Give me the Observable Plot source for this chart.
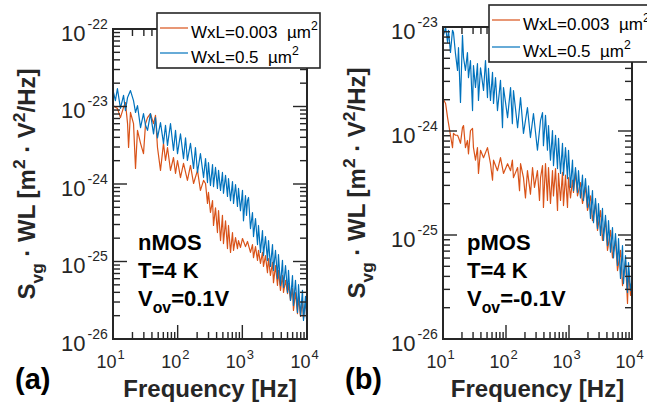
<!DOCTYPE html>
<html><head><meta charset="utf-8">
<script src="https://cdn.jsdelivr.net/npm/d3@7"></script>
<script src="https://cdn.jsdelivr.net/npm/@observablehq/plot@0.6"></script>
<style>
html,body{margin:0;padding:0;background:#fff}
#wrap{position:relative;width:647px;height:418px;background:#fff}
#wrap svg{position:absolute;top:0}
</style></head><body><div id="wrap"></div>
<script>
// ---------- data ----------
const seriesNames = ["WxL=0.003", "WxL=0.5"];
const xTicks = [10, 100, 1000, 10000];
const xTickBase = ["10", "10", "10", "10"];
const xTickExp = ["1", "2", "3", "4"];
const yTicksA = [1e-26, 1e-25, 1e-24, 1e-23, 1e-22];
const yTickBaseA = ["10", "10", "10", "10", "10"];
const yTickExpA = ["-26", "-25", "-24", "-23", "-22"];
const yTicksB = [1e-26, 1e-25, 1e-24, 1e-23];
const yTickBaseB = ["10", "10", "10", "10"];
const yTickExpB = ["-26", "-25", "-24", "-23"];

// (a) nMOS, WxL = 0.003 um^2
const fA_small = [10,10.7,11.5,12.8,14.3,15.3,16.5,17.1,18.3,20.4,21.9,23.5,26.2,29.1,31.3,33.6,37.3,41.6,44.6,47.9,53.3,59.3,63.7,68.4,76.1,84.7,91.0,97.7,108.6,121,139,155,173,199,221,247,
265,284,294,316,340,352,378,405,421,452,484,502,540,579,600,645,692,718,771,826,857,920,988,1099,1180,1313,1410,1462,1570,1686,1746,1875,2014,2085,2239,2404,2495,2673,2877,2979,3199,3436,3556,3819,4102,4256,4571,4909,5082,5458,5861,6067,6516,6998,7261,7798,8356,8670,9311,10000];
const sA_small = [1.04e-23,9.9e-24,9.6e-24,7.3e-24,9.9e-24,1.14e-23,6.1e-24,3.0e-24,8.5e-24,6.1e-24,1.61e-24,5.0e-24,3.4e-24,2.5e-24,6.1e-24,7.3e-24,8.2e-24,6.1e-24,7.8e-24,3.0e-24,1.52e-24,3.4e-24,2.04e-24,3.0e-24,1.52e-24,2.23e-24,1.39e-24,2.04e-24,1.23e-24,1.87e-24,1.13e-24,1.76e-24,1.03e-24,1.52e-24,8.4e-25,1.13e-24,
1.03e-24,5.7e-25,7.9e-25,4.35e-25,6.2e-25,2.96e-25,5.0e-25,2.4e-25,4.6e-25,1.89e-25,4.0e-25,1.73e-25,3.4e-25,1.49e-25,2.96e-25,1.33e-25,2.4e-25,1.41e-25,2.07e-25,1.49e-25,1.89e-25,1.54e-25,2.01e-25,1.58e-25,1.84e-25,1.33e-25,1.68e-25,1.14e-25,1.58e-25,1.05e-25,1.41e-25,9.6e-26,1.33e-25,8.75e-26,1.21e-25,7.3e-26,1.11e-25,6.7e-26,9.9e-26,5.4e-26,9.0e-26,5.0e-26,7.8e-26,4.3e-26,6.7e-26,4.04e-26,5.8e-26,3.9e-26,5.3e-26,3.2e-26,4.55e-26,2.37e-26,4.04e-26,2.16e-26,3.5e-26,1.98e-26,3.2e-26,1.87e-26,2.9e-26,2.04e-26];

// (a) nMOS, WxL = 0.5 um^2
const fA_large = [10,10.7,11.5,12.8,14.3,15.3,16.5,18.3,20.4,21.9,23.5,26.2,29.1,31.3,33.6,37.3,41.6,44.6,47.9,53.3,59.3,63.7,68.4,76.1,84.7,91.0,97.7,108.6,121,130,139,155,173,185,199,221,247,
265,284,294,316,340,352,378,405,421,452,484,502,540,579,600,645,692,718,771,826,857,920,988,1023,1099,1140,1180,1225,1313,1410,1462,1570,1686,1746,1875,2014,2085,2239,2404,2495,2673,2877,2979,3199,3436,3556,3819,4102,4256,4571,4909,5082,5458,5861,6067,6516,6998,7261,7798,8356,8670,9311,9638,10000];
const sA_large = [1.54e-23,1.21e-23,1.73e-23,9.6e-24,1.41e-23,9.0e-24,1.33e-23,1.63e-23,1.21e-23,8.5e-24,1.04e-23,5.4e-24,8.2e-24,5.8e-24,5.0e-24,8.2e-24,4.5e-24,7.3e-24,4.0e-24,6.3e-24,3.4e-24,5.8e-24,3.2e-24,6.1e-24,2.75e-24,5.0e-24,2.5e-24,4.5e-24,2.16e-24,4.0e-24,2.04e-24,3.4e-24,1.61e-24,3.0e-24,1.43e-24,2.5e-24,1.23e-24,
2.16e-24,1.06e-24,1.92e-24,9.7e-25,1.81e-24,9.4e-25,1.66e-24,8.9e-25,1.52e-24,8.4e-25,1.43e-24,7.7e-25,1.31e-24,7.0e-25,1.19e-24,6.2e-25,1.09e-24,5.7e-25,1.0e-24,5.2e-25,8.9e-25,4.6e-25,8.4e-25,3.4e-25,7.2e-25,4.0e-25,6.2e-25,6.8e-25,2.7e-25,4.35e-25,2.13e-25,3.64e-25,1.68e-25,2.96e-25,1.33e-25,2.55e-25,1.21e-25,2.13e-25,1.05e-25,1.89e-25,8.75e-26,1.68e-25,7.8e-26,1.41e-25,6.1e-26,1.25e-25,5.0e-26,1.05e-25,4.7e-26,9.0e-26,4.04e-26,7.8e-26,3.2e-26,6.7e-26,2.75e-26,5.8e-26,2.23e-26,5.1e-26,2.04e-26,4.3e-26,1.76e-26,3.6e-26,1.87e-26,3.2e-26];

// (b) pMOS, WxL = 0.003 um^2
const fB_small = [10,10.8,11.6,12.9,13.9,14.4,15.5,16.7,17.3,18.6,20.0,20.8,22.3,24.0,24.9,26.8,28.9,29.9,32.2,34.6,35.9,38.7,43.2,49.9,55.7,60.0,62.2,71.9,80.3,89.6,104,116,124,129,150,161,167,186,200,215,240,259,278,310,334,347,
373,386,416,447,464,499,537,557,600,645,669,720,774,803,864,929,964,1037,1116,1157,1245,1339,1495,1608,1794,1931,2154,2317,2587,2783,3103,3339,3727,4009,4474,4813,5372,5779,6450,6939,7743,8330,8642,9298,10000];
const sB_small = [2.03e-24,1.86e-24,1.36e-24,9.2e-25,7.0e-25,9.6e-25,9.2e-25,9.2e-25,8.75e-25,7.7e-25,1.09e-24,1.14e-24,7.0e-25,8.2e-25,6.1e-25,1.02e-24,1.07e-24,7.0e-25,5.3e-25,7.0e-25,3.95e-25,6.6e-25,5.6e-25,7.0e-25,4.9e-25,3.4e-25,5.3e-25,4.2e-25,5.6e-25,3.95e-25,4.9e-25,4.2e-25,5.3e-25,3.6e-25,4.5e-25,2.7e-25,4.9e-25,3.6e-25,2.3e-25,4.2e-25,2.5e-25,4.5e-25,2.9e-25,4.2e-25,2.17e-25,3.6e-25,
4.7e-25,1.86e-25,4.9e-25,2.17e-25,4.5e-25,2.03e-25,4.2e-25,2.4e-25,4.4e-25,1.74e-25,3.95e-25,2.17e-25,4.04e-25,1.94e-25,3.8e-25,1.86e-25,3.6e-25,2.3e-25,3.4e-25,2.6e-25,4.04e-25,2.4e-25,3.23e-25,2.03e-25,2.9e-25,1.74e-25,2.4e-25,1.39e-25,2.03e-25,1.12e-25,1.74e-25,8.95e-26,1.39e-25,7.2e-26,1.12e-25,6.1e-26,8.95e-26,4.6e-26,7.2e-26,3.3e-26,5.75e-26,2.22e-26,4.6e-26,2.65e-26,3.7e-26];

// (b) pMOS, WxL = 0.5 um^2
const fB_large = [10,10.8,11.6,12.0,12.9,13.9,14.4,15.5,16.7,17.3,18.6,20.0,20.8,22.3,24.0,24.9,26.8,28.9,29.9,32.2,34.6,35.9,38.7,43.2,46.4,49.9,51.8,55.7,60.0,62.2,66.9,71.9,80.3,86.4,89.6,104,116,124,129,150,167,186,215,240,268,310,347,
373,386,416,447,464,499,537,557,600,645,669,720,774,803,864,929,964,1037,1116,1157,1245,1339,1389,1495,1608,1668,1794,1931,2004,2154,2317,2404,2587,2783,2884,3103,3339,3464,3727,4009,4159,4474,4813,4993,5372,5779,5995,6450,6939,7197,7743,8330,8642,9298,10000];
const sB_large = [8.4e-24,1.0e-23,7.2e-24,9.4e-24,5.75e-24,9.4e-24,8.95e-24,5.6e-24,3.86e-24,6.4e-24,1.9e-24,8.4e-24,5.15e-24,3.86e-24,5.75e-24,3.3e-24,4.8e-24,1.59e-24,4.3e-24,2.65e-24,4.5e-24,1.99e-24,4.1e-24,2.48e-24,4.8e-24,2.12e-24,4.04e-24,1.99e-24,3.7e-24,1.86e-24,3.3e-24,1.59e-24,3.1e-24,1.09e-24,2.65e-24,1.36e-24,2.65e-24,1.19e-24,2.48e-24,1.09e-24,2.12e-24,9.6e-25,1.7e-24,8.75e-25,1.49e-24,6.6e-25,1.28e-24,
1.52e-24,7.3e-25,1.43e-24,6.6e-25,1.14e-24,5.3e-25,1.02e-24,4.7e-25,9.2e-25,4.4e-25,8.6e-25,3.95e-25,7.7e-25,3.8e-25,7.0e-25,3.53e-25,6.6e-25,2.9e-25,5.3e-25,2.7e-25,4.5e-25,2.6e-25,4.2e-25,2.3e-25,3.8e-25,2.17e-25,3.53e-25,1.86e-25,3.0e-25,1.46e-25,2.7e-25,1.33e-25,2.27e-25,1.17e-25,2.03e-25,1.0e-25,1.82e-25,8.95e-26,1.56e-25,8.0e-26,1.39e-25,6.9e-26,1.19e-25,6.1e-26,1.045e-25,5.15e-26,9.35e-26,3.86e-26,8.0e-26,3.45e-26,6.4e-26,2.83e-26,5.5e-26,2.96e-26,4.1e-26];

// ---------- drawing ----------
const FONT = "'Liberation Sans', Arial, Helvetica, sans-serif";
const INK = "#262626";
const ORANGE = "#D95319", BLUE = "#0072BD";
const H = 418;

function rich(sel, parts, base) {
  let off = 0;
  for (const p of parts) {
    const target = p.sub ? base * 0.32 : p.sup ? -base * 0.42 : 0;
    const ts = sel.append("tspan").text(p.t).attr("dy", target - off);
    if (p.sub || p.sup) ts.attr("font-size", base * 0.72);
    off = target;
  }
}

function bar(sel, x, y, w, h) {
  sel.append("rect").attr("x", x).attr("y", y).attr("width", w).attr("height", h)
    .attr("fill", INK).attr("stroke", "none").style("fill", INK);
}

function drawPanel(p) {
  const small = p.fSmall.map((f, i) => ({f, s: p.sSmall[i]}));
  const large = p.fLarge.map((f, i) => ({f, s: p.sLarge[i]}));
  const chart = Plot.plot({
    width: p.width, height: H,
    marginLeft: p.ml, marginRight: p.mr, marginTop: p.mt, marginBottom: p.mb,
    style: {background: "transparent"},
    x: {type: "log", domain: [10, 1e4], axis: null},
    y: {type: "log", domain: p.yDomain, axis: null},
    marks: [
      Plot.line(small, {x: "f", y: "s", stroke: ORANGE, strokeWidth: 1.2, clip: true}),
      Plot.line(large, {x: "f", y: "s", stroke: BLUE, strokeWidth: 1.2, clip: true}),
      Plot.text(xTicks, {x: d => d, frameAnchor: "bottom", text: xTickBase, textAnchor: "end", lineAnchor: "bottom", dx: 3, dy: 28, fontSize: 18, fontFamily: FONT, fill: INK}),
      Plot.text(xTicks, {x: d => d, frameAnchor: "bottom", text: xTickExp, textAnchor: "start", lineAnchor: "bottom", dx: 4, dy: 19, fontSize: 13, fontFamily: FONT, fill: INK}),
      Plot.text(p.yTicks, {y: d => d, frameAnchor: "left", text: p.yBase, textAnchor: "end", lineAnchor: "bottom", dx: -28, dy: 11, fontSize: 22, fontFamily: FONT, fill: INK}),
      Plot.text(p.yTicks, {y: d => d, frameAnchor: "left", text: p.yExp, textAnchor: "start", lineAnchor: "bottom", dx: -26, dy: -1, fontSize: 14, fontFamily: FONT, fill: INK})
    ]
  });
  chart.style.left = p.left + "px";
  document.getElementById("wrap").appendChild(chart);
  const svg = d3.select(chart);
  const sx = chart.scale("x"), sy = chart.scale("y");
  const X = v => sx.apply(v), Y = v => sy.apply(v);
  const x0 = p.ml, x1 = p.width - p.mr, y0 = p.mt, y1 = H - p.mb;
  const isMajor = v => Math.abs(Math.log10(v) - Math.round(Math.log10(v))) < 1e-6;

  // inward ticks on all four sides and the box, as filled bars placed through Plot's scales
  const g = svg.append("g");
  for (const v of d3.scaleLog().domain([10, 1e4]).ticks(30)) {
    const len = isMajor(v) ? 14 : 7, xx = X(v);
    bar(g, xx - 0.7, y1 - len, 1.4, len);
    bar(g, xx - 0.7, y0, 1.4, len);
  }
  for (const v of d3.scaleLog().domain(p.yDomain).ticks(30)) {
    const len = isMajor(v) ? 14 : 7, yy = Y(v);
    bar(g, x0, yy - 0.7, len, 1.4);
    bar(g, x1 - len, yy - 0.7, len, 1.4);
  }
  bar(g, x0 - 1, y0 - 1, x1 - x0 + 2, 2);
  bar(g, x0 - 1, y1 - 1, x1 - x0 + 2, 2);
  bar(g, x0 - 1, y0 - 1, 2, y1 - y0 + 2);
  bar(g, x1 - 1, y0 - 1, 2, y1 - y0 + 2);

  const innerCx = (x0 + x1) / 2;
  const innerCy = (y0 + y1) / 2;

  // y label
  const yl = svg.append("text").attr("transform", `translate(35,${innerCy}) rotate(-90)`)
    .attr("text-anchor", "middle").attr("font-family", FONT).attr("font-weight", "bold")
    .attr("font-size", 24).attr("fill", INK);
  rich(yl, [{t: "S"}, {t: "vg", sub: true}, {t: " · WL [m"}, {t: "2", sup: true}, {t: " · V"}, {t: "2", sup: true}, {t: "/Hz]"}], 24);

  // x label
  svg.append("text").attr("x", innerCx).attr("y", 397).attr("text-anchor", "middle")
    .attr("font-family", FONT).attr("font-weight", "bold").attr("font-size", 24).attr("fill", INK)
    .text("Frequency [Hz]");

  // panel label
  svg.append("text").attr("x", 15).attr("y", 389).attr("text-anchor", "start").attr("font-family", FONT).attr("font-weight", "bold")
    .attr("font-size", 29).attr("fill", "#000").text(p.panel);

  // annotation
  const ann = svg.append("g").attr("font-family", FONT).attr("font-weight", "bold").attr("font-size", 22)
    .attr("fill", "#000").attr("text-anchor", "start");
  ann.append("text").attr("x", p.annX).attr("y", 250).text(p.device);
  ann.append("text").attr("x", p.annX).attr("y", 278).text("T=4 K");
  const v = ann.append("text").attr("x", p.annX).attr("y", 306);
  rich(v, [{t: "V"}, {t: "ov", sub: true}, {t: p.vov}], 22);

  // legend
  const L = p.legend;
  const lg = svg.append("g").attr("font-family", FONT).attr("font-size", 17).attr("fill", "#000").attr("text-anchor", "start");
  lg.append("rect").attr("x", L.x).attr("y", L.y).attr("width", L.w).attr("height", L.h)
    .attr("fill", "#fff").attr("stroke", INK).attr("stroke-width", 1.6);
  [[ORANGE, seriesNames[0], L.r1], [BLUE, seriesNames[1], L.r2]].forEach(([c, name, ry]) => {
    lg.append("line").attr("x1", L.x + 3).attr("x2", L.x + 31).attr("y1", ry).attr("y2", ry)
      .attr("stroke", c).attr("stroke-width", 1.2);
    const t = lg.append("text").attr("x", L.x + 34).attr("y", ry + 9.5).style("white-space", "pre");
    rich(t, [{t: name + "  µm"}, {t: "2", sup: true}], 17);
  });
}

drawPanel({
  left: 0, width: 330, ml: 113, mr: 23, mt: 29, mb: 79,
  yDomain: [1e-26, 1e-22], yTicks: yTicksA, yBase: yTickBaseA, yExp: yTickExpA,
  fSmall: fA_small, sSmall: sA_small, fLarge: fA_large, sLarge: sA_large,
  panel: "(a)", device: "nMOS", vov: "=0.1V", annX: 138,
  legend: {x: 157, y: 13, w: 163, h: 55, r1: 28, r2: 53}
});
drawPanel({
  left: 330, width: 317, ml: 113, mr: 15, mt: 27, mb: 79,
  yDomain: [1e-26, 1e-23], yTicks: yTicksB, yBase: yTickBaseB, yExp: yTickExpB,
  fSmall: fB_small, sSmall: sB_small, fLarge: fB_large, sLarge: sB_large,
  panel: "(b)", device: "pMOS", vov: "=-0.1V", annX: 137,
  legend: {x: 159, y: 5, w: 200, h: 57, r1: 20, r2: 47}
});
</script></body></html>
